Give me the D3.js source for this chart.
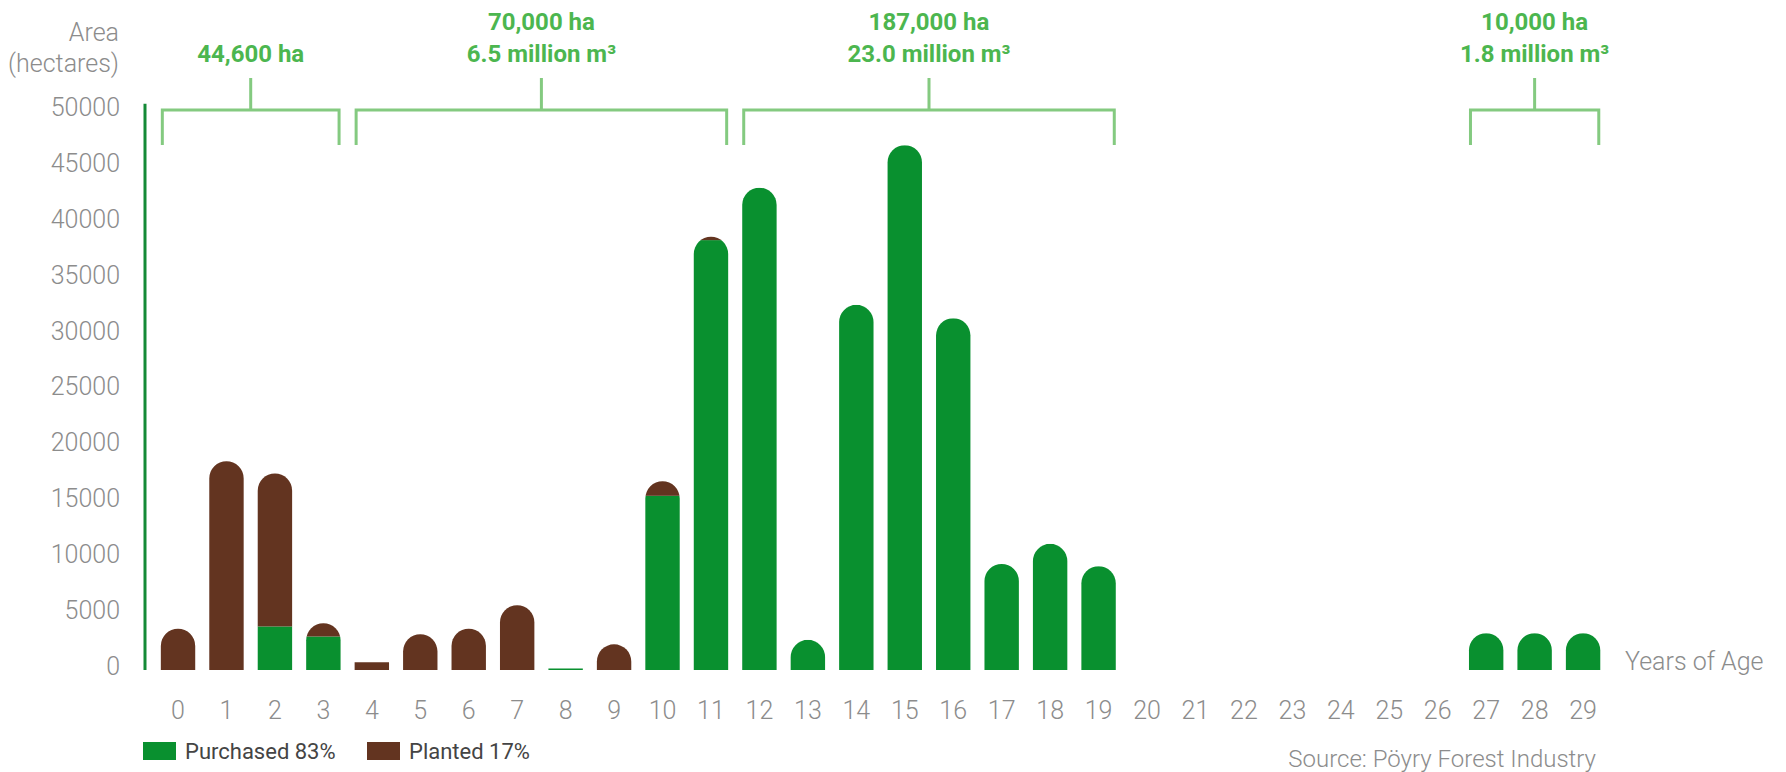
<!DOCTYPE html>
<html>
<head>
<meta charset="utf-8">
<script src="https://cdn.jsdelivr.net/npm/d3@7"></script>
<style>
  html, body { margin: 0; padding: 0; background: #ffffff; }
  svg { display: block; }
  text { font-family: Roboto, "Noto Sans", sans-serif; }
</style>
</head>
<body>
<svg id="chart" width="1786" height="772"></svg>
<script>
// ---- data ----
const ages = ["0","1","2","3","4","5","6","7","8","9","10","11","12","13","14","15","16","17","18","19","20","21","22","23","24","25","26","27","28","29"];
const purchased = [0, 0, 3900, 3000, 0, 0, 0, 0, 150, 0, 15600, 38500, 43200, 2700, 32700, 47000, 31500, 9500, 11300, 9300, 0, 0, 0, 0, 0, 0, 0, 3300, 3300, 3300];
const planted   = [3700, 18700, 13700, 1200, 700, 3200, 3700, 5800, 0, 2300, 1300, 300, 0, 0, 0, 0, 0, 0, 0, 0, 0, 0, 0, 0, 0, 0, 0, 0, 0, 0];
const yTicks = [0, 5000, 10000, 15000, 20000, 25000, 30000, 35000, 40000, 45000, 50000];
const groupStart = [0, 4, 12, 27];
const groupEnd   = [3, 11, 19, 29];
const groupLine1 = ["", "70,000 ha", "187,000 ha", "10,000 ha"];
const groupLine2 = ["44,600 ha", "6.5 million m³", "23.0 million m³", "1.8 million m³"];
const legendNames = ["Purchased 83%", "Planted 17%"];

// ---- styles ----
const GREEN = "#09902f", BROWN = "#633420", AXIS = "#148a36";
const ANNOT = "#4cb64f", BRACKET = "#84ca80", GREY = "#8c8c8c";

const svg = d3.select("#chart");

const x = d3.scaleBand().domain(ages).range([153.8, 1607.3]).paddingInner(0.29).paddingOuter(0.145);
const y = d3.scaleLinear().domain([0, 50000]).range([670, 111.7]);
const bw = x.bandwidth();
const r = bw / 2;

// ---- y axis ----
const yAxis = svg.append("g").attr("transform", "translate(145,0)")
  .call(d3.axisLeft(y).tickValues(yTicks).tickSize(0).tickPadding(25).tickFormat(d3.format("d")));
yAxis.select(".domain").remove();
yAxis.selectAll("text").attr("fill", GREY).attr("font-size", 25).attr("font-weight", 300)
  .attr("y", -4).style("font-family", "Roboto, sans-serif");
svg.append("line").attr("x1", 145).attr("x2", 145).attr("y1", y(50000) - 8).attr("y2", y(0))
  .attr("stroke", AXIS).attr("stroke-width", 3);

svg.append("text").attr("x", 119).attr("y", 41).attr("text-anchor", "end")
  .attr("font-size", 25).attr("font-weight", 300).attr("fill", GREY).text("Area");
svg.append("text").attr("x", 119).attr("y", 72).attr("text-anchor", "end")
  .attr("font-size", 25).attr("font-weight", 300).attr("fill", GREY).text("(hectares)");

// ---- x axis ----
const xAxis = svg.append("g").attr("transform", "translate(0,670)")
  .call(d3.axisBottom(x).tickSize(0).tickPadding(31));
xAxis.select(".domain").remove();
xAxis.selectAll("text").attr("fill", GREY).attr("font-size", 25).attr("font-weight", 300)
  .style("font-family", "Roboto, sans-serif");

svg.append("text").attr("x", 1625).attr("y", 670).attr("font-size", 25).attr("font-weight", 300)
  .attr("fill", GREY).text("Years of Age");

// ---- bars ----
const defs = svg.append("defs");
function shapePath(x0, total) {
  const y0 = y(0), yt = y(total);
  const h = y0 - yt;
  if (h < r) return `M${x0},${y0}V${yt}H${x0 + bw}V${y0}Z`;
  return `M${x0},${y0}V${yt + r}A${r},${r} 0 0 1 ${x0 + bw},${yt + r}V${y0}Z`;
}
ages.forEach((a, i) => {
  const total = purchased[i] + planted[i];
  if (total <= 0) return;
  const x0 = x(a);
  const id = "clip" + i;
  defs.append("clipPath").attr("id", id).append("path").attr("d", shapePath(x0, total));
  const g = svg.append("g").attr("clip-path", `url(#${id})`);
  if (purchased[i] > 0) {
    g.append("rect").attr("x", x0 - 1).attr("width", bw + 2)
      .attr("y", y(purchased[i])).attr("height", y(0) - y(purchased[i]) + 1).attr("fill", GREEN);
  }
  if (planted[i] > 0) {
    g.append("rect").attr("x", x0 - 1).attr("width", bw + 2)
      .attr("y", y(total) - 1).attr("height", y(purchased[i]) - y(total) + 1).attr("fill", BROWN);
  }
});

// ---- brackets ----
groupStart.forEach((s, k) => {
  const xl = x(ages[s]) + 1.5;
  const xr = x(ages[groupEnd[k]]) + bw - 1.5;
  const xm = (xl + xr) / 2;
  svg.append("path")
    .attr("d", `M${xl},145V110H${xr}V145M${xm},110V78`)
    .attr("fill", "none").attr("stroke", BRACKET).attr("stroke-width", 3);
  if (groupLine1[k]) {
    svg.append("text").attr("x", xm).attr("y", 30).attr("text-anchor", "middle")
      .attr("font-size", 24).attr("font-weight", 700).attr("fill", ANNOT).text(groupLine1[k]);
  }
  svg.append("text").attr("x", xm).attr("y", 62).attr("text-anchor", "middle")
    .attr("font-size", 24).attr("font-weight", 700).attr("fill", ANNOT).text(groupLine2[k]);
});

// ---- legend ----
const legendX = [143, 367];
const legendColors = [GREEN, BROWN];
legendNames.forEach((n, i) => {
  svg.append("rect").attr("x", legendX[i]).attr("y", 742).attr("width", 33).attr("height", 18)
    .attr("fill", legendColors[i]);
  svg.append("text").attr("x", legendX[i] + 42).attr("y", 759).attr("font-size", 22)
    .attr("fill", "#444").text(n);
});

// ---- source ----
svg.append("text").attr("x", 1596).attr("y", 767).attr("text-anchor", "end")
  .attr("font-size", 24).attr("font-weight", 300).attr("fill", GREY).text("Source: Pöyry Forest Industry");
</script>
</body>
</html>
